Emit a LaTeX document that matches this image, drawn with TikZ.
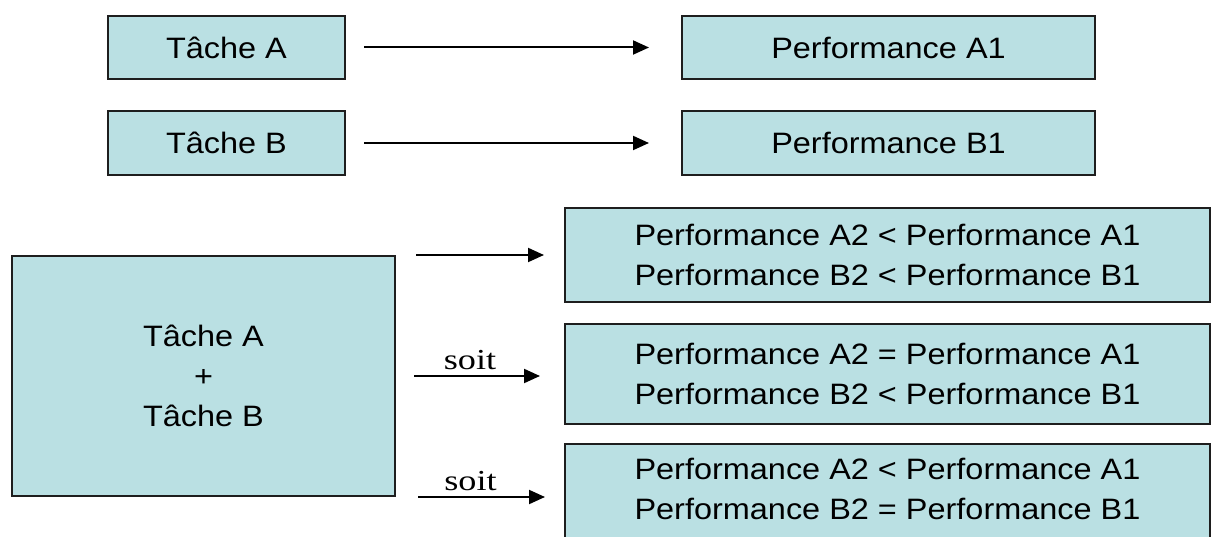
\documentclass[tikz,border=0pt]{standalone}
\usepackage{fontspec}
\setmainfont{Liberation Sans}[FakeStretch=1.1]
\newfontfamily\soitfont{Liberation Serif}[FakeStretch=1.25]
\usetikzlibrary{arrows.meta}
\definecolor{boxfill}{RGB}{186,224,227}
\definecolor{boxline}{RGB}{30,30,30}
\tikzset{
  box/.style={draw=boxline, fill=boxfill, line width=2pt, inner sep=0pt, align=center,
    font=\fontsize{29.5}{40}\selectfont},
  txt/.style={inner sep=0pt, align=center, font=\fontsize{29.5}{40}\selectfont},
  arr/.style={line width=2pt, -{Triangle[length=16pt,width=14pt]}},
  soitlbl/.style={inner sep=2pt, font=\soitfont\fontsize{29}{32}\selectfont}
}
\begin{document}
\begin{tikzpicture}[x=1pt,y=-1pt]
\clip (0,0) rectangle (1211,537);
\fill[white] (0,0) rectangle (1211,537);
% top rows
\node[box, minimum width=237, minimum height=63] (tA) at (226.5,47.5) {Tâche A};
\node[box, minimum width=413, minimum height=63] (pA) at (888.5,47.5) {Performance A1};
\node[box, minimum width=237, minimum height=64] (tB) at (226.5,143) {Tâche B};
\node[box, minimum width=413, minimum height=64] (pB) at (888.5,143) {Performance B1};
\draw[arr, shorten <=18pt, shorten >=32pt] (tA) -- (pA);
\draw[arr, shorten <=18pt, shorten >=32pt] (tB) -- (pB);
% bottom part
\node[box, minimum width=383, minimum height=240] (big) at (203.5,376)
  {Tâche A\\+\\Tâche B};
\node[box, minimum width=645, minimum height=94] (r1) at (887.5,255)
  {Performance A2 < Performance A1\\Performance B2 < Performance B1};
\node[box, minimum width=645, minimum height=100] (r2) at (887.5,374)
  {Performance A2 = Performance A1\\Performance B2 < Performance B1};
\node[box, minimum width=645, minimum height=110] (r3) at (887.5,499) {};
\node[txt] (r3t) at (887.5,489)
  {Performance A2 < Performance A1\\Performance B2 = Performance B1};
\coordinate (a1s) at ([xshift=20pt]big.north east);
\coordinate (a2s) at ([xshift=18pt]big.east);
\coordinate (a3s) at ([xshift=22pt]big.south east);
\draw[arr] (a1s) -- ([xshift=-20pt]r1.west |- a1s);
\draw[arr] (a2s) -- node[soitlbl, above=3pt, xshift=-7pt] (s1) {soit} ([xshift=-24pt]r2.west |- a2s);
\draw[arr] (a3s) -- node[soitlbl, above=3pt, xshift=-11pt] (s2) {soit} ([xshift=-19pt]r3.west |- a3s);
\end{tikzpicture}
\end{document}
